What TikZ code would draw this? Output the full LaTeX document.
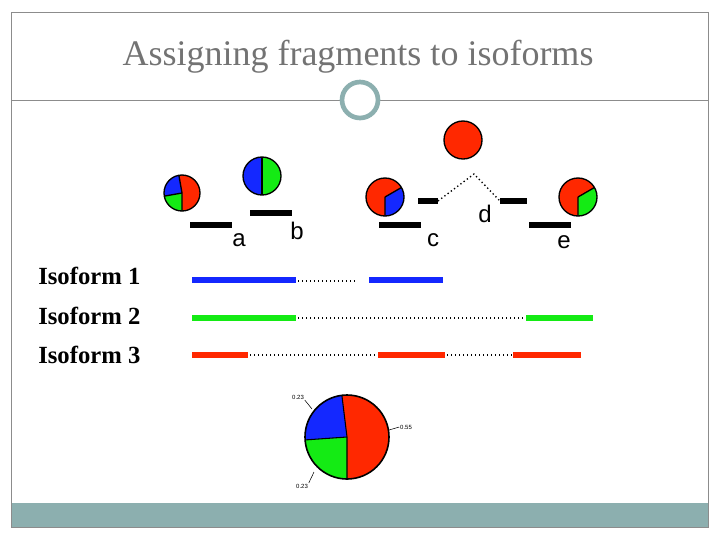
\documentclass[tikz,border=0pt]{standalone}
\usepackage{fontspec}
\setmainfont{Liberation Serif}
\setsansfont{Liberation Sans}
\begin{document}
\begin{tikzpicture}[x=0.75pt,y=-0.75pt,
  frame/.style={draw=black!45,line width=0.6pt},
  seg/.style={line width=4.5pt},
  exon/.style={line width=5pt},
  intron/.style={dotted,line width=1pt},
  lab/.style={font=\sffamily\fontsize{18}{18}\selectfont,inner sep=0},
  iso/.style={font=\bfseries\fontsize{18.5}{18.5}\selectfont,anchor=west,inner sep=0},
  tiny/.style={font=\sffamily\fontsize{4.5}{5}\selectfont,inner sep=0.5pt},
  pie/.style={draw=black,line width=1pt}]
\definecolor{pr}{RGB}{255,40,0}
\definecolor{pb}{RGB}{20,40,255}
\definecolor{pg}{RGB}{20,235,20}
\definecolor{teal}{RGB}{140,175,175}
\useasboundingbox (0,0) rectangle (720,540);
\fill[teal] (12,503) rectangle (708,527);
\draw[frame] (11,12) rectangle (708,527);
\draw[frame] (12,100) -- (340,100);
\draw[frame] (380,100) -- (708,100);
\node[circle,draw=teal,line width=3.5pt,minimum size=27pt] (ring) at (360,100) {};
\node[font=\fontsize{27}{27}\selectfont,text=black!55] (title) at (358,57) {Assigning fragments to isoforms};
% small pies; screen angles negated because y points down
\newcommand{\pieS}[7]{%
  \fill[#6] (#1,#2) -- ++(-#4:#3) arc[start angle=-#4,end angle=-#5,radius=#3] -- cycle;
  \fill[#7] (#1,#2) -- ++(-#5:#3) arc[start angle=-#5,end angle=-#4-360,radius=#3] -- cycle;
  \draw[line width=1pt] (#1,#2) -- ++(-#4:#3) (#1,#2) -- ++(-#5:#3);
  \draw[pie] (#1,#2) circle[radius=#3];}
% pie a
\fill[pr] (182,193) -- ++(90:18) arc[start angle=90,end angle=-100,radius=18] -- cycle;
\fill[pb] (182,193) -- ++(-100:18) arc[start angle=-100,end angle=-190,radius=18] -- cycle;
\fill[pg] (182,193) -- ++(-190:18) arc[start angle=-190,end angle=-270,radius=18] -- cycle;
\draw[line width=1pt] (182,193) -- ++(90:18) (182,193) -- ++(-100:18) (182,193) -- ++(-190:18);
\draw[pie] (182,193) circle[radius=18];
\pieS{262}{176}{19}{90}{270}{pb}{pg}
\pieS{385}{197}{19}{-90}{30}{pb}{pr}
\pieS{578}{197}{19}{-90}{30}{pg}{pr}
\fill[pr,draw=black,line width=1pt] (463,140) circle[radius=19];
% bars
\coordinate (a1) at (190,225); \coordinate (a2) at (232,225);
\coordinate (b1) at (250,213); \coordinate (b2) at (292,213);
\coordinate (c1) at (379,225); \coordinate (c2) at (421,225);
\coordinate (d1) at (418,201); \coordinate (d2) at (438,201);
\coordinate (d3) at (500,201); \coordinate (d4) at (527,201);
\coordinate (e1) at (529,225); \coordinate (e2) at (571,225);
\draw[seg] (a1) -- (a2); \draw[seg] (b1) -- (b2); \draw[seg] (c1) -- (c2);
\draw[seg] (d1) -- (d2); \draw[seg] (d3) -- (d4); \draw[seg] (e1) -- (e2);
\draw[intron] (d2) -- (474,174) -- (d3);
\node[lab] (la) at (239,240) {a};
\node[lab] (lb) at (297,231) {b};
\node[lab] (lc) at (433,240) {c};
\node[lab] (ld) at (485,214) {d};
\node[lab] (le) at (564,242) {e};
% isoforms
\node[iso] (i1) at (38,276) {Isoform 1};
\node[iso] (i2) at (38,316) {Isoform 2};
\node[iso] (i3) at (38,355) {Isoform 3};
\draw[exon,pb] (192,280) -- (296,280); \draw[intron] (298,281) -- (355,281); \draw[exon,pb] (369,280) -- (443,280);
\draw[exon,pg] (192,318) -- (296,318); \draw[intron] (298,318) -- (526,318); \draw[exon,pg] (526,318) -- (593,318);
\draw[exon,pr] (192,355) -- (248,355); \draw[intron] (250,355) -- (378,355); \draw[exon,pr] (378,355) -- (445,355);
\draw[intron] (447,355) -- (513,355); \draw[exon,pr] (513,355) -- (581,355);
% big pie
\fill[pr] (347,437) -- ++(90:42) arc[start angle=90,end angle=-97,radius=42] -- cycle;
\fill[pb] (347,437) -- ++(-97:42) arc[start angle=-97,end angle=-184,radius=42] -- cycle;
\fill[pg] (347,437) -- ++(-184:42) arc[start angle=-184,end angle=-270,radius=42] -- cycle;
\draw[line width=0.8pt] (347,437) -- ++(90:42) (347,437) -- ++(-97:42) (347,437) -- ++(-184:42);
\draw[line width=1.2pt] (347,437) circle[radius=42];
\node[tiny] (t1) at (298,397) {0.23};
\node[tiny] (t2) at (406,427) {0.55};
\node[tiny] (t3) at (302,486) {0.23};
\draw[line width=0.4pt] (t1.south east) -- (312,409);
\draw[line width=0.4pt] (t2.west) -- (389,430);
\draw[line width=0.4pt] (t3.north east) -- (314,472);
\end{tikzpicture}
\end{document}
